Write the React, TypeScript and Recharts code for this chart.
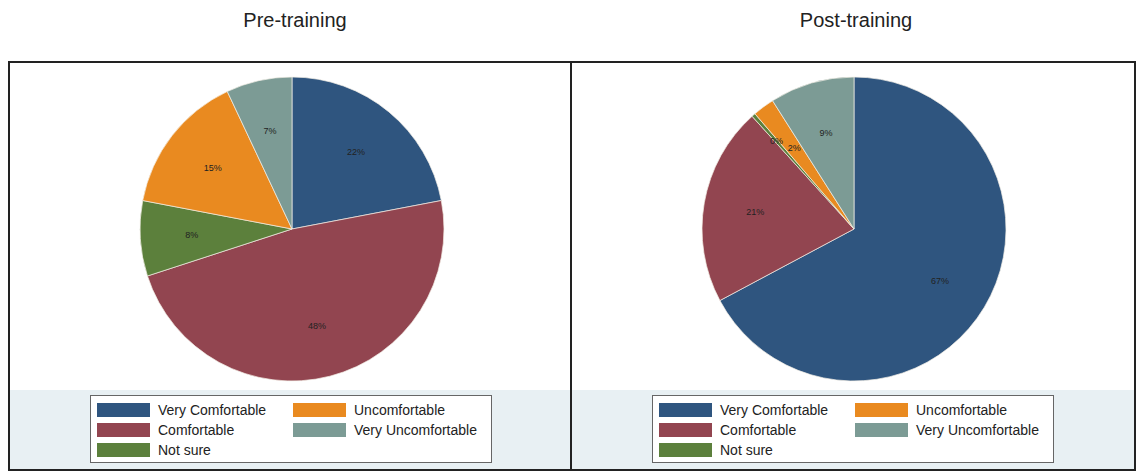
import React from "react";
import { PieChart, Pie, Cell } from "recharts";

// Response categories (clockwise from 12 o'clock)
const categories = [
  "Very Comfortable",
  "Comfortable",
  "Not sure",
  "Uncomfortable",
  "Very Uncomfortable",
];

const colors = ["#2f557f", "#924550", "#5c803c", "#e98a20", "#7c9b95"];

// Share of respondents, %
const preValues = [22, 48, 8, 15, 7];
const postValues = [67.2, 21.1, 0.4, 2.3, 9.0];

const panelTitles = ["Pre-training", "Post-training"];

// Legend layout: two columns, filled row-wise
const legendOrder = [
  [0, 3],
  [1, 4],
  [2, -1],
];

const RAD = Math.PI / 180;

const renderLabel = (props: any) => {
  const { cx, cy, midAngle, outerRadius, value } = props;
  // tiny slices get their label pushed a bit further out
  const r = outerRadius * (value < 1 ? 0.77 : 0.66);
  const x = cx + r * Math.cos(-midAngle * RAD);
  const y = cy + r * Math.sin(-midAngle * RAD);
  return (
    <text
      x={x}
      y={y}
      fill="#222"
      fontSize={9}
      fontFamily="Liberation Sans, Arial, sans-serif"
      textAnchor="middle"
      dominantBaseline="central"
    >
      {`${Math.round(value)}%`}
    </text>
  );
};

const Legend = ({ left }: { left: number }) => (
  <div
    style={{
      position: "absolute",
      left,
      top: 395,
      width: 402,
      height: 68,
      boxSizing: "border-box",
      border: "1px solid #666",
      background: "#fff",
    }}
  >
    {legendOrder.map((row, ri) =>
      row.map((idx, ci) =>
        idx < 0 ? null : (
          <div
            key={`${ri}-${ci}`}
            style={{
              position: "absolute",
              left: ci === 0 ? 6 : 202,
              top: 6 + ri * 20,
              height: 15,
              display: "flex",
              alignItems: "center",
            }}
          >
            <div
              style={{
                width: 53,
                height: 14,
                background: colors[idx],
                marginRight: 8,
              }}
            />
            <span style={{ fontSize: 14, color: "#222", whiteSpace: "nowrap" }}>
              {categories[idx]}
            </span>
          </div>
        )
      )
    )}
  </div>
);

const Panel = ({
  left,
  width,
  values,
  title,
  titleCenter,
}: {
  left: number;
  width: number;
  values: number[];
  title: string;
  titleCenter: number;
}) => {
  const data = categories.map((name, i) => ({ name, value: values[i] }));
  return (
    <>
      <div
        style={{
          position: "absolute",
          left: titleCenter - 150,
          width: 300,
          top: 9,
          textAlign: "center",
          fontSize: 20,
          color: "#222",
        }}
      >
        {title}
      </div>
      <div
        style={{
          position: "absolute",
          left,
          top: 390,
          width,
          height: 79,
          background: "#e8f0f3",
        }}
      />
      <div style={{ position: "absolute", left, top: 63 }}>
        <PieChart
          width={width}
          height={327}
          margin={{ top: 0, right: 0, bottom: 0, left: 0 }}
        >
          <Pie
            data={data}
            dataKey="value"
            nameKey="name"
            cx={282}
            cy={166}
            outerRadius={152}
            startAngle={90}
            endAngle={-270}
            stroke="#f4efe6"
            strokeWidth={0.7}
            label={renderLabel}
            labelLine={false}
            isAnimationActive={false}
          >
            {data.map((d, i) => (
              <Cell key={d.name} fill={colors[i]} />
            ))}
          </Pie>
        </PieChart>
      </div>
      <Legend left={left + 80} />
    </>
  );
};

export default function App() {
  return (
    <div
      style={{
        position: "absolute",
        left: 0,
        top: 0,
        width: 1137,
        height: 473,
        background: "#fff",
        fontFamily: "Liberation Sans, Arial, sans-serif",
        overflow: "hidden",
      }}
    >
      {/* outer frame */}
      <div
        style={{
          position: "absolute",
          left: 8,
          top: 61,
          width: 1128,
          height: 410,
          boxSizing: "border-box",
          border: "2px solid #222",
        }}
      />
      <Panel
        left={10}
        width={560}
        values={preValues}
        title={panelTitles[0]}
        titleCenter={295}
      />
      <Panel
        left={572}
        width={562}
        values={postValues}
        title={panelTitles[1]}
        titleCenter={856}
      />
      {/* divider */}
      <div
        style={{
          position: "absolute",
          left: 570,
          top: 61,
          width: 2,
          height: 410,
          background: "#222",
        }}
      />
    </div>
  );
}
